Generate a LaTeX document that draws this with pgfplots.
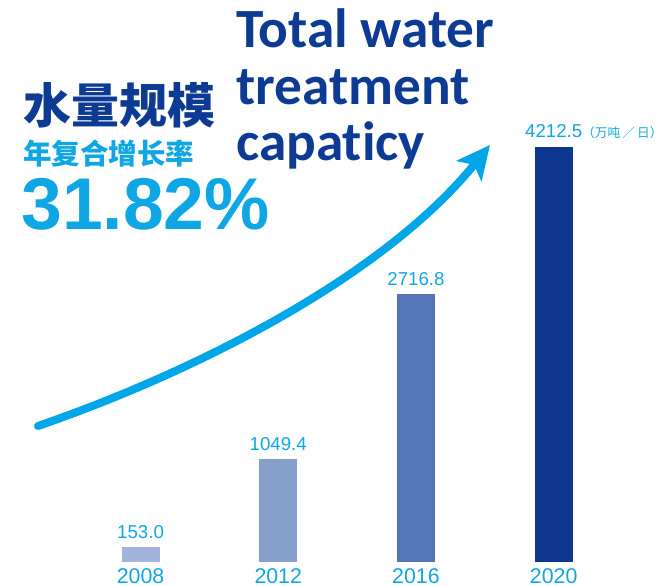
\documentclass[border=0pt]{standalone}
\usepackage{pgfplots}
\pgfplotsset{compat=1.18}
\usetikzlibrary{arrows.meta}
\usepackage{fontspec}
\setmainfont{Liberation Sans}
\newfontfamily\cjk{Noto Sans CJK SC}
\newfontfamily\titlefont{Carlito}[Ligatures={NoCommon,NoRequired}]
\definecolor{navy}{HTML}{0D3B94}
\definecolor{cyanblue}{HTML}{0FA6E6}
\definecolor{arrowcyan}{HTML}{00A7E8}
\definecolor{barA}{HTML}{A3B4DA}
\definecolor{barB}{HTML}{869FCB}
\definecolor{barC}{HTML}{5476B6}
\definecolor{barD}{HTML}{0E368F}
\begin{document}
\begin{tikzpicture}
\useasboundingbox (0,0) rectangle (504pt,-439.5pt);
\begin{axis}[
  at={(12.45pt,-421.5pt)}, anchor=south west,
  scale only axis, width=475.1pt, height=421.2pt,
  xmin=-0.9, xmax=3.7, ymin=0, ymax=5700,
  axis x line*=bottom, hide y axis,
  x axis line style={draw=none},
  xtick={0,1,2,3}, xticklabels={2008,2012,2016,2020},
  major tick length=0pt,
  xticklabel style={font=\fontsize{16}{16}\selectfont, text=cyanblue,
    inner sep=0pt, anchor=north, yshift=-4.5pt},
  ybar, bar width=28.5pt, bar shift=0pt,
  point meta=explicit symbolic,
  nodes near coords,
  every node near coord/.append style={font=\fontsize{14}{14}\selectfont,
    text=cyanblue, inner sep=0pt, anchor=south, yshift=6pt},
  clip=false,
]
\addplot[fill=barA, draw=none] coordinates {(0,153.0) [153.0]};
\addplot[fill=barB, draw=none] coordinates {(1,1049.4) [1049.4]};
\addplot[fill=barC, draw=none] coordinates {(2,2716.8) [2716.8]};
\addplot[fill=barD, draw=none] coordinates {(3,4212.5)
  [{4212.5\rlap{\cjk\fontsize{9.5}{9.5}\selectfont（万吨\,／\,日）}}]};
\end{axis}
\begin{scope}[x=0.75pt, y=-0.75pt]
% growth arrow
\draw[line width=6pt, arrowcyan, line cap=round,
  -{Stealth[length=25pt, width=24pt, inset=6pt]}]
  (38,426) .. controls (200,370) and (385,275) .. (490,145);
% left block
\node[anchor=base west, inner sep=0pt, text=navy,
  font=\cjk\bfseries\fontsize{36}{36}\selectfont] at (23,123) {水量规模};
\node[anchor=base west, inner sep=0pt, text=cyanblue,
  font=\cjk\bfseries\fontsize{21.4}{21.4}\selectfont] at (23,164) {年复合增长率};
\node[anchor=base west, inner sep=0pt, text=cyanblue,
  font=\bfseries\fontsize{55}{55}\selectfont] at (21,229) {31.82\%};
% title
\node[anchor=base west, inner sep=0pt, text=navy,
  font=\titlefont\bfseries\fontsize{41.5}{41.5}\selectfont] at (236,47) {Total water};
\node[anchor=base west, inner sep=0pt, text=navy,
  font=\titlefont\bfseries\fontsize{41.5}{41.5}\selectfont] at (236,104) {treatment};
\node[anchor=base west, inner sep=0pt, text=navy,
  font=\titlefont\bfseries\fontsize{41.5}{41.5}\selectfont] at (236,160) {capat\kern0pt icy};
\end{scope}
\end{tikzpicture}
\end{document}
